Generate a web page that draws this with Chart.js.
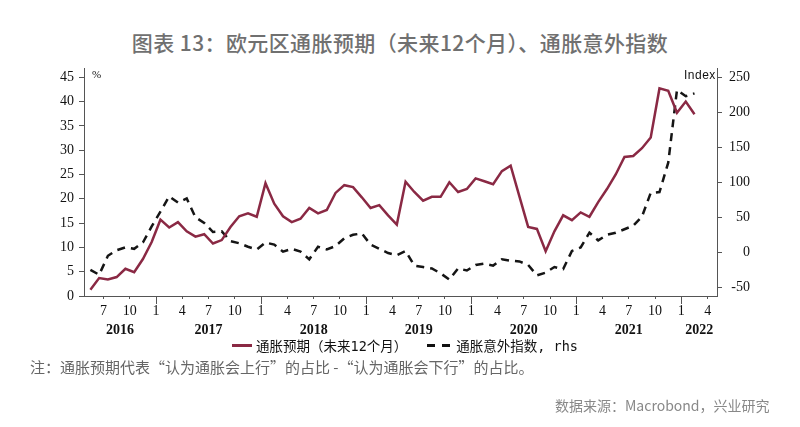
<!DOCTYPE html>
<html>
<head>
<meta charset="utf-8">
<script src="https://cdn.jsdelivr.net/npm/chart.js@4"></script>
<style>
  body { margin: 0; background: #fff; width: 800px; height: 427px; position: relative; overflow: hidden; font-family: "Noto Sans CJK SC", sans-serif; }
  #myChart { position: absolute; left: 0; top: 0; }
  #title { position: absolute; left: 0; top: 27px; width: 800px; text-align: center; font-size: 21px; font-weight: 500; letter-spacing: 0.4px; color: #707070; }
  .unit { position: absolute; font-size: 11px; color: #111; }
  #legend { position: absolute; left: 232px; top: 335px; font-family: "DejaVu Sans Mono", "Noto Sans CJK SC", monospace; font-size: 13.5px; color: #111; white-space: nowrap; }
  #legend span { display: inline-block; vertical-align: middle; }
  .sw { width: 20px; height: 3px; margin-right: 4px; }
  .solid { background: #8a2944; }
  .dash { width: 25px; background: repeating-linear-gradient(90deg, #111 0 8px, transparent 8px 15px); margin-left: 20px; }
  #note { position: absolute; left: 30px; top: 356px; font-size: 15px; color: #666; }
  #source { position: absolute; left: 555px; top: 395px; font-size: 14px; color: #888; }
</style>
</head>
<body>
<div id="title">图表 13：欧元区通胀预期（未来12个月）、通胀意外指数</div>
<canvas id="myChart" width="800" height="427"></canvas>
<div class="unit" style="left:92px;top:68px;font-family:'Liberation Serif'">%</div>
<div class="unit" style="left:684px;top:68px;font-family:'Liberation Sans';font-size:12px;letter-spacing:0.5px">Index</div>
<div id="legend"><span class="sw solid"></span><span>通胀预期（未来12个月）</span><span class="sw dash"></span><span>通胀意外指数, rhs</span></div>
<div id="note">注：通胀预期代表“认为通胀会上行”的占比 -“认为通胀会下行”的占比。</div>
<div id="source">数据来源：Macrobond，兴业研究</div>
<script>
// monthly data, May 2016 - Feb 2022
const firstYear = 2016;
const firstMonth = 5;

// 通胀预期（未来12个月）, %
const expectations = [
  1.3, 3.7, 3.4, 3.9, 5.6, 4.9, 7.6, 11.1, 15.7, 14.1, 15.2, 13.3,
  12.2, 12.7, 10.8, 11.5, 14.2, 16.4, 17.0, 16.3, 23.2, 19.0, 16.4, 15.2,
  15.9, 18.1, 17.0, 17.7, 21.2, 22.8, 22.4, 20.3, 18.1, 18.7, 16.6, 14.7,
  23.5, 21.4, 19.6, 20.4, 20.4, 23.4, 21.4, 22.0, 24.2, 23.6, 23.0, 25.7,
  26.8, 20.5, 14.2, 13.8, 9.2, 13.3, 16.6, 15.6, 17.2, 16.3, 19.3, 22.0,
  25.0, 28.6, 28.8, 30.4, 32.6, 42.7, 42.2, 37.7, 40.0, 37.4
];

// 通胀意外指数, rhs
const surprise = [
  -25, -32, -5, 3, 7, 5, 14, 37, 58, 80, 71, 77,
  50, 42, 29, 30, 16, 13, 8, 4, 14, 11, 1, 5,
  1, -10, 8, 4, 9, 20, 25, 27, 11, 5, -1, -4,
  2, -19, -21, -23, -30, -39, -23, -26, -18, -16, -19, -10,
  -12, -13, -18, -33, -29, -21, -24, 2, 7, 28, 17, 25,
  28, 33, 38, 51, 85, 86, 128, 232, 223, 227
];

const years = ["2016", "2017", "2018", "2019", "2020", "2021", "2022"];
const monthLabels = ["1", "4", "7", "10"];
const leftTicks = [0, 5, 10, 15, 20, 25, 30, 35, 40, 45];
const rightTicks = [-50, 0, 50, 100, 150, 200, 250];

// x = months since Jan 2016, points sit mid-month
const xs = expectations.map((_, i) => (firstYear - 2016) * 12 + firstMonth - 1 + i + 0.5);
const xMin = 3.77;
const xMax = 76.07;

const serif = "Liberation Serif";
const axisColor = "#555";

const yearPlugin = {
  id: "years",
  afterDraw(chart) {
    const ctx = chart.ctx;
    const x = chart.scales.x;
    ctx.save();
    ctx.strokeStyle = axisColor;
    ctx.lineWidth = 1;
    x.ticks.forEach((t) => {
      if (t.value % 12 === 0) {
        const px = Math.round(x.getPixelForValue(t.value)) + 0.5;
        ctx.beginPath();
        ctx.moveTo(px, x.top);
        ctx.lineTo(px, x.top + 8);
        ctx.stroke();
      }
    });
    ctx.font = "bold 14px " + serif;
    ctx.fillStyle = "#111";
    ctx.textAlign = "center";
    ctx.textBaseline = "middle";
    years.forEach((y, k) => {
      const a = Math.max(k * 12, x.min);
      const b = Math.min(k * 12 + 12, x.max);
      if (b <= a) return;
      ctx.fillText(y, (x.getPixelForValue(a) + x.getPixelForValue(b)) / 2, 330);
    });
    ctx.restore();
  },
};

new Chart(document.getElementById("myChart"), {
  type: "line",
  data: {
    datasets: [
      {
        label: "通胀预期（未来12个月）",
        data: xs.map((x, i) => ({ x: x, y: expectations[i] })),
        borderColor: "#8a2944",
        borderWidth: 2.5,
        pointRadius: 0,
        yAxisID: "y",
      },
      {
        label: "通胀意外指数, rhs",
        data: xs.map((x, i) => ({ x: x, y: surprise[i] })),
        borderColor: "#151515",
        borderWidth: 2.5,
        borderDash: [8, 6],
        pointRadius: 0,
        yAxisID: "y2",
      },
    ],
  },
  options: {
    responsive: false,
    animation: false,
    layout: { padding: { left: 0, right: 50, top: 68, bottom: 91 } },
    plugins: { legend: { display: false }, tooltip: { enabled: false } },
    scales: {
      x: {
        type: "linear",
        min: xMin,
        max: xMax,
        afterBuildTicks: (axis) => {
          const t = [];
          for (let v = 0; v <= xMax; v += 3) if (v >= xMin) t.push({ value: v });
          axis.ticks = t;
        },
        afterFit: (s) => { s.height = 40; },
        border: { color: axisColor, width: 1 },
        grid: { drawOnChartArea: false, tickLength: 3, color: axisColor },
        ticks: {
          autoSkip: false,
          maxRotation: 0,
          padding: 4,
          color: "#111",
          font: { family: serif, size: 14 },
          callback: (v) => monthLabels[(v % 12) / 3],
        },
      },
      y: {
        position: "left",
        min: 0,
        max: 46.9,
        afterBuildTicks: (axis) => { axis.ticks = leftTicks.map((v) => ({ value: v })); },
        afterFit: (s) => { s.width = 84; },
        border: { color: axisColor, width: 1 },
        grid: { drawOnChartArea: false, tickLength: 5, color: axisColor },
        ticks: { padding: 5, color: "#111", font: { family: serif, size: 14 } },
      },
      y2: {
        position: "right",
        min: -62.4,
        max: 263.3,
        afterBuildTicks: (axis) => { axis.ticks = rightTicks.map((v) => ({ value: v })); },
        afterFit: (s) => { s.width = 33; },
        border: { color: axisColor, width: 1 },
        grid: { drawOnChartArea: false, tickLength: 5, color: axisColor },
        ticks: { padding: 8, crossAlign: "far", color: "#111", font: { family: serif, size: 14 } },
      },
    },
  },
  plugins: [yearPlugin],
});
</script>
</body>
</html>
